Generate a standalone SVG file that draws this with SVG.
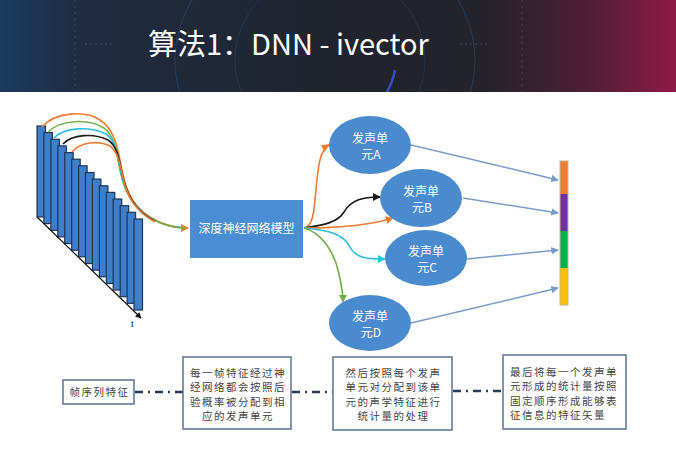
<svg xmlns="http://www.w3.org/2000/svg" width="676" height="452" viewBox="0 0 676 452">
<style>
.cjk{font-family:"Noto Sans CJK SC","Liberation Sans",sans-serif}
.wt{fill:#ffffff;font-size:12px;text-anchor:middle}
.bx{fill:#ffffff;stroke:#5a7396;stroke-width:1.5}
.bt{fill:#444444;font-size:10.5px;letter-spacing:1.5px}
.bar{fill:#3f7fca;stroke:#1c3558;stroke-width:1.2}
.ell{fill:#4a8bd0}
.dd{stroke:#2a3955;stroke-width:2.5;fill:none;stroke-dasharray:8 5 2 5}
.cv{fill:none;stroke-width:1.6}
.vl{stroke:#7b9cc8;stroke-width:1.5;fill:none;marker-end:url(#mb)}
</style>
<defs>
<linearGradient id="hg" x1="0" y1="0" x2="1" y2="0">
<stop offset="0" stop-color="#1c3b5e"/>
<stop offset="0.12" stop-color="#1f2c42"/>
<stop offset="0.5" stop-color="#20232d"/>
<stop offset="0.72" stop-color="#24232c"/>
<stop offset="0.86" stop-color="#4a1f33"/>
<stop offset="1" stop-color="#8e1a46"/>
</linearGradient>
<clipPath id="hc"><rect x="0" y="0" width="676" height="92"/></clipPath>
<marker id="mo" viewBox="0 0 10 10" refX="9" refY="5" markerWidth="5" markerHeight="5" orient="auto"><path d="M0,0L10,5L0,10z" fill="#ed7d31"/></marker>
<marker id="mk" viewBox="0 0 10 10" refX="9" refY="5" markerWidth="5" markerHeight="5" orient="auto"><path d="M0,0L10,5L0,10z" fill="#1a1a1a"/></marker>
<marker id="mc" viewBox="0 0 10 10" refX="9" refY="5" markerWidth="5" markerHeight="5" orient="auto"><path d="M0,0L10,5L0,10z" fill="#2cc0e0"/></marker>
<marker id="mg" viewBox="0 0 10 10" refX="9" refY="5" markerWidth="5" markerHeight="5" orient="auto"><path d="M0,0L10,5L0,10z" fill="#70ad47"/></marker>
<marker id="mb" viewBox="0 0 10 10" refX="9" refY="5" markerWidth="5" markerHeight="5" orient="auto"><path d="M0,0L10,5L0,10z" fill="#7b9cc8"/></marker>
<marker id="mt" viewBox="0 0 10 10" refX="9" refY="5" markerWidth="5" markerHeight="5" orient="auto"><path d="M0,0L10,5L0,10z" fill="#111111"/></marker>
</defs>
<rect width="676" height="452" fill="#ffffff"/>
<g id="header">
<rect x="0" y="0" width="676" height="92" fill="url(#hg)"/>
<g clip-path="url(#hc)" fill="none">
<ellipse cx="325" cy="60" rx="150" ry="130" stroke="#2a4f8a" stroke-width="1.2" opacity="0.45"/>
<ellipse cx="330" cy="60" rx="95" ry="90" stroke="#2a4f8a" stroke-width="1" opacity="0.35"/>
<path d="M395,70 Q392,85 385,95" stroke="#3a5de0" stroke-width="2.5" opacity="0.8"/>
<line x1="75" y1="0" x2="75" y2="92" stroke="#7a8aa0" stroke-width="0.8" stroke-dasharray="2 4" opacity="0.35"/>
<line x1="522" y1="0" x2="522" y2="92" stroke="#7a8aa0" stroke-width="0.8" stroke-dasharray="2 4" opacity="0.35"/>
<line x1="85" y1="44" x2="112" y2="44" stroke="#7a8aa0" stroke-width="0.8" stroke-dasharray="2 3" opacity="0.45"/>
<line x1="460" y1="44" x2="490" y2="44" stroke="#7a8aa0" stroke-width="0.8" stroke-dasharray="2 3" opacity="0.45"/>
</g>
<text x="148" y="55" class="cjk" font-size="29" fill="#ffffff">算法1：DNN - ivector</text>
</g>
<g id="frames">
<rect class="bar" x="37" y="126" width="8.5" height="91"/>
<rect class="bar" x="43.9" y="132.6" width="8.5" height="91"/>
<rect class="bar" x="50.9" y="139.3" width="8.5" height="91"/>
<rect class="bar" x="57.8" y="145.9" width="8.5" height="91"/>
<rect class="bar" x="64.7" y="152.6" width="8.5" height="91"/>
<rect class="bar" x="71.7" y="159.2" width="8.5" height="91"/>
<rect class="bar" x="78.6" y="165.8" width="8.5" height="91"/>
<rect class="bar" x="85.5" y="172.5" width="8.5" height="91"/>
<rect class="bar" x="92.4" y="179.1" width="8.5" height="91"/>
<rect class="bar" x="99.4" y="185.8" width="8.5" height="91"/>
<rect class="bar" x="106.3" y="192.4" width="8.5" height="91"/>
<rect class="bar" x="113.2" y="199" width="8.5" height="91"/>
<rect class="bar" x="120.2" y="205.7" width="8.5" height="91"/>
<rect class="bar" x="127.1" y="212.3" width="8.5" height="91"/>
<rect class="bar" x="134" y="219" width="8.5" height="91"/>
<line x1="37" y1="217" x2="141" y2="318" stroke="#111111" stroke-width="1.2" marker-end="url(#mt)"/>
<text x="131" y="327" font-family="Liberation Serif, serif" font-size="10" fill="#222222">t</text>
</g>
<g id="connectors">
<path class="cv" stroke="#ed7d31" d="M42,127 C55,112 85,110 100,120 C112,128 116,140 120,160 C124,185 130,205 150,217 C162,225 175,228 188,228" marker-end="url(#mo)"/>
<path class="cv" stroke="#70ad47" d="M48,132 C60,120 88,118 104,128 C114,136 116,148 119,165 C123,188 131,207 152,219 C165,226 175,228 186,228"/>
<path class="cv" stroke="#2cc0e0" d="M54,138 C64,127 90,126 106,134 C115,140 117,152 120,168 C124,190 132,208 153,220"/>
<path class="cv" stroke="#1a1a1a" d="M63,144 C72,134 94,133 108,140 C117,146 119,158 122,173 C126,193 134,210 154,221"/>
<path class="cv" stroke="#ed7d31" d="M72,152 C80,142 98,140 110,146 C118,152 120,164 123,178 C127,196 135,211 155,222"/>
<path class="cv" stroke="#ed7d31" d="M304,228 C314,226 314,208 316,190 C318,166 320,150 329,145" marker-end="url(#mo)"/>
<path class="cv" stroke="#1a1a1a" d="M304,228 C325,225 338,222 344,212 C351,200 362,197 380,197" marker-end="url(#mk)"/>
<path class="cv" stroke="#ed7d31" d="M304,228 C330,228 368,226 393,218" marker-end="url(#mo)"/>
<path class="cv" stroke="#2cc0e0" d="M304,228 C330,230 344,235 350,247 C356,259 370,259 385,259" marker-end="url(#mc)"/>
<path class="cv" stroke="#70ad47" d="M304,228 C320,232 334,250 339,274 C342,288 343,295 343,302" marker-end="url(#mg)"/>
<line class="vl" x1="411" y1="145" x2="558" y2="180"/>
<line class="vl" x1="463" y1="198" x2="558" y2="213"/>
<line class="vl" x1="467" y1="259" x2="558" y2="250"/>
<line class="vl" x1="411" y1="323" x2="558" y2="288"/>
<line class="dd" x1="135" y1="392" x2="183" y2="392"/>
<line class="dd" x1="292" y1="392" x2="333" y2="392"/>
<line class="dd" x1="453" y1="391" x2="503" y2="391"/>
</g>
<g id="dnn">
<rect x="190" y="200" width="113" height="58" fill="#4a8dd4"/>
<text x="246.5" y="233" class="cjk wt">深度神经网络模型</text>
</g>
<g id="unitA">
<ellipse class="ell" cx="370" cy="145" rx="41" ry="29"/>
<text x="370" y="143" class="cjk wt">发声单</text>
<text x="371" y="159" class="cjk wt">元A</text>
</g>
<g id="unitB">
<ellipse class="ell" cx="421" cy="198" rx="41" ry="29"/>
<text x="421" y="196" class="cjk wt">发声单</text>
<text x="422" y="212" class="cjk wt">元B</text>
</g>
<g id="unitC">
<ellipse class="ell" cx="426" cy="258" rx="41" ry="28"/>
<text x="426" y="256" class="cjk wt">发声单</text>
<text x="427" y="272" class="cjk wt">元C</text>
</g>
<g id="unitD">
<ellipse class="ell" cx="370" cy="323" rx="41" ry="28"/>
<text x="370" y="321" class="cjk wt">发声单</text>
<text x="371" y="337" class="cjk wt">元D</text>
</g>
<g id="vector">
<rect x="560" y="161" width="8" height="33" fill="#ed7d31"/>
<rect x="560" y="194" width="8" height="37" fill="#7030a0"/>
<rect x="560" y="231" width="8" height="37" fill="#00b050"/>
<rect x="560" y="268" width="8" height="37" fill="#ffc000"/>
<rect x="560" y="161" width="8" height="144" fill="none" stroke="#c4b494" stroke-width="1"/>
</g>
<g id="box1">
<rect class="bx" x="63" y="380" width="71" height="24"/>
<text x="99.5" y="396" class="cjk bt" text-anchor="middle">帧序列特征</text>
</g>
<g id="box2">
<rect class="bx" x="183" y="357" width="108" height="72"/>
<text class="cjk bt" text-anchor="middle"><tspan x="238" y="377">每一帧特征经过神</tspan><tspan x="238" y="391.3">经网络都会按照后</tspan><tspan x="238" y="405.6">验概率被分配到相</tspan><tspan x="238" y="420">应的发声单元</tspan></text>
</g>
<g id="box3">
<rect class="bx" x="333" y="357" width="119" height="73"/>
<text class="cjk bt" text-anchor="middle"><tspan x="393.5" y="377">然后按照每个发声</tspan><tspan x="393.5" y="391.3">单元对分配到该单</tspan><tspan x="393.5" y="405.6">元的声学特征进行</tspan><tspan x="393.5" y="420">统计量的处理</tspan></text>
</g>
<g id="box4">
<rect class="bx" x="503" y="355" width="123" height="74"/>
<text class="cjk bt"><tspan x="510" y="376">最后将每一个发声单</tspan><tspan x="510" y="390.3">元形成的统计量按照</tspan><tspan x="510" y="404.6">固定顺序形成能够表</tspan><tspan x="510" y="419">征信息的特征矢量</tspan></text>
</g>
</svg>
